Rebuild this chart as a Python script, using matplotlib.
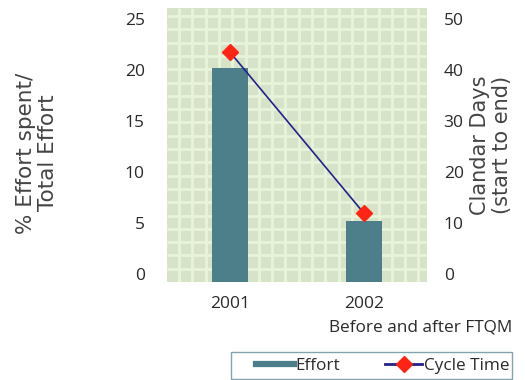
import matplotlib
matplotlib.use("Agg")
import matplotlib.pyplot as plt
from matplotlib.lines import Line2D
from matplotlib.patches import Rectangle
from matplotlib.collections import LineCollection
import numpy as np

years = ["2001", "2002"]
effort = [20.2, 5.2]
cycle_time = [43.5, 11.9]
left_ticks = [0, 5, 10, 15, 20, 25]
right_ticks = [0, 10, 20, 30, 40, 50]

W, H = 525, 380
fig = plt.figure(figsize=(W / 100, H / 100), dpi=100)
plt.rcParams['font.family'] = ['Open Sans', 'DejaVu Sans']
TXT = '#2a2a2a'
FS = 12.5

L, R, T, B = 167, 427, 8, 282
ax = fig.add_axes([L / W, 1 - B / H, (R - L) / W, (B - T) / H])
ax.set_facecolor('#d7e3c9')
for s in ax.spines.values():
    s.set_visible(False)

# background lattice pattern
pw, ph = R - L, B - T
step = 13.3
segs = []
x = 12.0
while x < pw:
    segs.append([(x / pw, 0), (x / pw, 1)])
    x += step
y = 8.0
while y < ph:
    segs.append([(0, 1 - y / ph), (1, 1 - y / ph)])
    y += step
lc = LineCollection(segs, colors='#e8f4da', linewidths=2.0, transform=ax.transAxes, zorder=0.5)
ax.add_collection(lc)

ymin, ymax = -0.78, 26.08
ax.set_ylim(ymin, ymax)
xs = np.arange(len(years))
ax.set_xlim(-0.47, 1.47)
ax.bar(xs, [v - ymin for v in effort], bottom=ymin, width=0.27, color='#4d7f8b', zorder=2)
ax.set_yticks(left_ticks)
ax.set_xticks(xs)
ax.set_xticklabels(years)
ax.tick_params(axis='both', length=0, labelsize=FS, labelcolor=TXT)
ax.tick_params(axis='y', pad=16)
ax.tick_params(axis='x', pad=10)

ax2 = ax.twinx()
for s in ax2.spines.values():
    s.set_visible(False)
ax2.set_ylim(2 * ymin, 2 * ymax)
ax2.plot(xs, cycle_time, color='#22228a', lw=1.2, zorder=3)
ax2.plot(xs, cycle_time, ls='none', marker='D', ms=8, color='#ff2414', zorder=4)
ax2.set_yticks(right_ticks)
ax2.tick_params(axis='y', length=0, labelsize=FS, pad=12, labelcolor=TXT)

WIDE = ['DejaVu Sans']
fig.text(37 / W, 1 - 153 / H, "% Effort spent/\nTotal Effort", rotation=90,
         ha='center', va='center', fontsize=15.5, color='#444444', linespacing=1.1,
         family=WIDE)
fig.text(491 / W, 1 - 145 / H, "Clandar Days\n(start to end)", rotation=90,
         ha='center', va='center', fontsize=15, color='#444444', linespacing=1.1,
         family=WIDE)
fig.text(512 / W, 1 - 328 / H, "Before and after FTQM", ha='right', va='center',
         fontsize=12.4, color=TXT)

# legend frame
fig.patches.append(Rectangle((231 / W, 1 - 379 / H), (512 - 231) / W, (379 - 352) / H,
                             transform=fig.transFigure, facecolor='white',
                             edgecolor='#7fa4ab', lw=1.0, zorder=1))
handles = [Line2D([], [], color='#4d7f8b', lw=4.5),
           Line2D([], [], color='#22228a', lw=2, marker='D', ms=8,
                  markerfacecolor='#ff2414', markeredgecolor='#ff2414')]
leg = fig.legend(handles, ["Effort", "Cycle Time"], loc='center',
                 bbox_to_anchor=(383 / W, 1 - 365.5 / H),
                 ncol=2, frameon=False, fontsize=12.3,
                 handlelength=2.2, handletextpad=0.1, columnspacing=2.6,
                 borderpad=0.2, labelcolor=TXT)
leg.set_zorder(2)

fig.savefig("out.png", dpi=100)
